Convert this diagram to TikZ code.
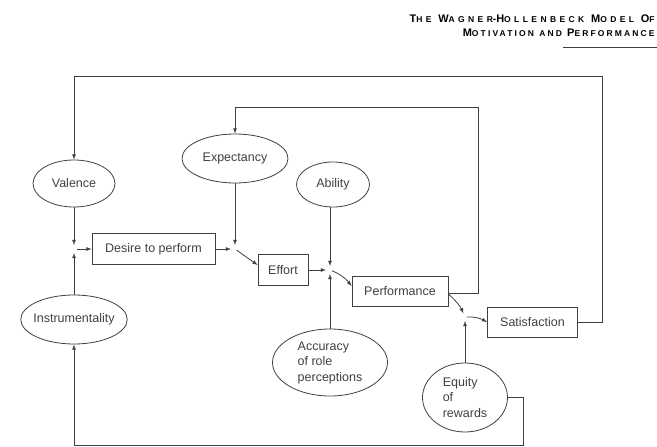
\documentclass[tikz,border=0pt]{standalone}
\usepackage{fontspec}
\setmainfont{Liberation Sans}
\newfontfamily\headfont[LetterSpace=40]{Liberation Sans}
\newfontfamily\subheadfont[LetterSpace=25]{Liberation Sans}
\usetikzlibrary{calc,arrows,positioning,shapes.geometric}
\newcommand\hcap[2]{{\fontsize{11}{11}\selectfont #1}{\fontsize{8.5}{8.5}\selectfont #2}}

\begin{document}
\begin{tikzpicture}[
    x=1pt,y=-1pt,
    line width=0.8pt,
    color=black!75,
    font=\fontsize{12.5}{15.5}\selectfont,
    factor/.style={
      draw,ellipse,inner xsep=-3pt,inner ysep=0pt
    },
    stagebox/.style={draw,rectangle,inner sep=0pt},
    link/.style={-latex},
    tojunction/.style={-latex,shorten >=4pt}
  ]
  \useasboundingbox (0,0) rectangle (657,447);

  % page heading
  \node (headA) [anchor=base east,inner sep=0pt,text=black,font=\headfont\bfseries] at (655,23)
    {\hcap{T}{HE} \hcap{W}{AGNER}-\hcap{H}{OLLENBECK} \hcap{M}{ODEL} \hcap{O}{F}};
  \node (headB) [anchor=base east,inner sep=0pt,text=black,font=\subheadfont\bfseries] at (655,37)
    {\hcap{M}{OTIVATION} \hcap{}{AND} \hcap{P}{ERFORMANCE}};
  \draw [line width=1pt] (563,47) -- (657,47);

  \node (valence)    [factor,minimum width=82pt,minimum height=47pt]  at (74,183.5)  {Valence};
  \node (expectancy) [factor,minimum width=106pt,minimum height=49pt] at (235,158.5) {Expectancy};
  \node (ability)    [factor,minimum width=73pt,minimum height=45pt]  at (333,184.5) {Ability};
  \node (instrument) [factor,minimum width=106pt,minimum height=49pt] at (74,319.5)  {Instrumentality};
  \node (accuracy)   [factor,align=left,minimum width=115pt,minimum height=67pt] at (330,362.5)
    {Accuracy\\of role\\perceptions};
  \node (equity)     [factor,align=left,minimum width=85pt,minimum height=69pt]  at (465,397.5)
    {Equity\\of\\rewards};

  \node (desire)       [stagebox,minimum width=123pt,minimum height=31pt] at (153.5,249) {Desire to perform};
  \node (effort)       [stagebox,minimum width=50pt,minimum height=31pt]  at (283,270)   {Effort};
  \node (performance)  [stagebox,minimum width=96pt,minimum height=30pt]  at (400,291)   {Performance};
  \node (satisfaction) [stagebox,minimum width=90pt,minimum height=30pt]  at (532.5,322) {Satisfaction};

  % junctions and loop corners
  \coordinate (jv) at (74,249);
  \coordinate (je) at (235,249);
  \coordinate (jp) at (330,270);
  \coordinate (js) at (465,317);
  \coordinate (outerTR) at (602,76);
  \coordinate (innerTR) at (478,107);
  \coordinate (bottomR) at (523,445);

  % draw edges
  \draw [tojunction] (valence) -- (jv);
  \draw [tojunction] (instrument) -- (jv);
  \draw [link,shorten <=3pt] (jv) -- (desire);
  \draw [tojunction] (desire) -- (je);
  \draw [tojunction] (expectancy) -- (je);
  \draw [link,shorten <=2pt] (je) -- ([yshift=5pt]effort.west);
  \draw [tojunction] (effort) -- (jp);
  \draw [tojunction] (ability.south -| jp) -- (jp);
  \draw [tojunction] (accuracy) -- (jp);
  \draw [link,shorten <=2pt] (jp) to[bend left=15] ([yshift=5pt]performance.west);
  \draw [tojunction] ([yshift=-3pt]performance.east) to[bend left=12] (js);
  \draw [tojunction] (equity) -- (js);
  \draw [link,shorten <=2pt] (js) to[bend left=15] (satisfaction.west);

  % feedback loops
  \draw [link] (satisfaction.east) -| (outerTR) -| (valence.north);
  \draw [link] ([yshift=-2pt]performance.east) -| (innerTR) -| (expectancy.north);
  \draw [link] (equity.east) -| (bottomR) -| (instrument.south);
\end{tikzpicture}
\end{document}
